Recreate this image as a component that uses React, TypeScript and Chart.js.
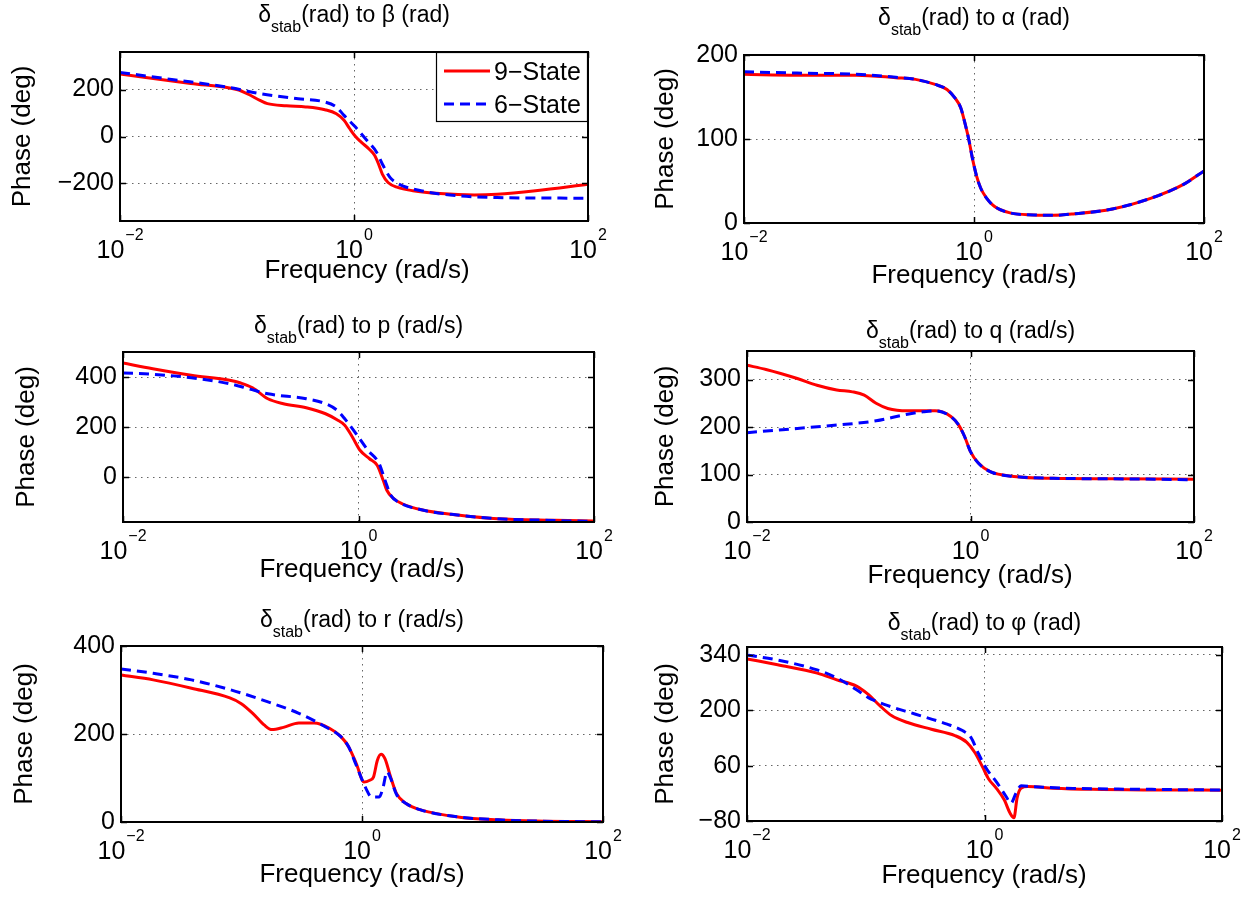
import React, { useEffect, useRef } from 'react';
import { Chart, registerables } from 'chart.js';

Chart.register(...registerables);

const FONT = '"Liberation Sans", Arial, Helvetica, sans-serif';

// ---------- data ----------
const seriesNames = ['9\u2212State', '6\u2212State'];
const xTickValues = [0.01, 1, 100];
const xTickExponents = ['\u22122', '0', '2'];
const xAxisLabel = 'Frequency (rad/s)';
const yAxisLabel = 'Phase (deg)';

// delta_stab -> beta
const betaFreq9 = [0.01, 0.0403, 0.0995, 0.125, 0.157, 0.182, 0.265, 0.387, 0.564, 0.707, 0.822, 0.92, 1.03, 1.153, 1.343, 1.503, 1.62, 1.746, 1.955, 2.36, 3.19, 5.41, 10.7, 16.7, 35.6, 100];
const betaPhase9 = [266, 226, 200, 180, 154, 140, 131, 126, 114, 97, 69, 33, 0, -24, -53, -81, -117, -160, -196, -217, -231, -243, -249, -246, -231, -203];
const betaFreq6 = [0.01, 0.0277, 0.0856, 0.157, 0.333, 0.564, 0.707, 0.822, 1.03, 1.29, 1.56, 1.746, 2.03, 2.36, 3.73, 7.9, 16.7, 100];
const betaPhase6 = [273, 243, 209, 183, 161, 147, 126, 90, 40, -17, -67, -117, -174, -200, -231, -253, -260, -263];
const betaYTicks = [-200, 0, 200];

// delta_stab -> alpha
const alphaFreq9 = [0.01, 0.029, 0.0948, 0.209, 0.31, 0.459, 0.582, 0.682, 0.768, 0.83, 0.899, 0.972, 1.052, 1.14, 1.28, 1.5, 2.06, 3.3, 4.9, 7.3, 16, 35.3, 66.4, 100];
const alphaPhase9 = [177, 176, 176, 173, 171, 165, 159, 149, 137, 120, 100, 76, 56, 42, 30, 20, 12, 9.6, 9.2, 10.8, 16.7, 30, 46, 62];
const alphaFreq6 = [0.01, 0.029, 0.0948, 0.209, 0.31, 0.459, 0.582, 0.682, 0.768, 0.83, 0.899, 0.972, 1.052, 1.14, 1.28, 1.5, 2.06, 3.3, 4.9, 7.3, 16, 35.3, 66.4, 100];
const alphaPhase6 = [180, 178.5, 177, 173.5, 171, 165, 159, 149, 137, 120, 100, 76, 56, 42, 30, 20, 12, 9.6, 9.2, 10.8, 16.7, 30, 46, 62];
const alphaYTicks = [0, 100, 200];

// delta_stab -> p
const pFreq9 = [0.01, 0.0179, 0.038, 0.0805, 0.1, 0.126, 0.17, 0.23, 0.36, 0.525, 0.657, 0.764, 0.887, 1.03, 1.24, 1.44, 1.62, 1.74, 1.95, 2.35, 3.42, 7.24, 15.3, 47.2, 100];
const pPhase9 = [456, 433, 407, 387, 376, 357, 313, 293, 277, 253, 229, 207, 160, 107, 73, 47, -13, -53, -83, -107, -131, -153, -167, -173, -176];
const pFreq6 = [0.01, 0.0179, 0.038, 0.0805, 0.117, 0.17, 0.36, 0.525, 0.657, 0.764, 0.955, 1.2, 1.5, 1.68, 1.88, 2.18, 3.42, 7.24, 15.3, 47.2, 100];
const pPhase6 = [416, 411, 397, 373, 353, 333, 313, 293, 267, 233, 173, 107, 53, -13, -73, -100, -131, -153, -167, -174, -178];
const pYTicks = [0, 200, 400];

// delta_stab -> q
const qFreq9 = [0.01, 0.0148, 0.0282, 0.0423, 0.0635, 0.0879, 0.112, 0.143, 0.182, 0.273, 0.482, 0.667, 0.784, 0.885, 1.0, 1.175, 1.5, 2.44, 5.48, 18.5, 100];
const qPhase9 = [330, 321, 302, 288, 278, 274, 267, 250, 239, 234, 234, 222, 204, 180, 148, 124, 106, 96, 92, 91, 90];
const qFreq6 = [0.01, 0.0282, 0.0635, 0.143, 0.273, 0.378, 0.482, 0.667, 0.784, 0.885, 1.0, 1.175, 1.5, 2.44, 5.48, 18.5, 100];
const qPhase6 = [188, 197, 204, 213, 227, 232, 234, 222, 204, 180, 148, 124, 106, 96, 92, 91, 89];
const qYTicks = [0, 100, 200, 300];

// delta_stab -> r
const rFreq9 = [0.01, 0.0185, 0.0385, 0.08, 0.0996, 0.124, 0.155, 0.179, 0.223, 0.299, 0.4, 0.537, 0.668, 0.774, 0.896, 1.04, 1.16, 1.245, 1.34, 1.44, 1.55, 1.73, 1.93, 2.32, 3.11, 6.47, 13.5, 28, 100];
const rPhase9 = [334, 323, 304, 282, 269, 247, 220, 210, 215, 225, 225, 213, 194, 171, 133, 91, 95, 102, 140, 154, 144, 102, 65, 42, 27, 11, 5, 2, 0.5];
const rFreq6 = [0.01, 0.0185, 0.0385, 0.08, 0.166, 0.299, 0.499, 0.668, 0.774, 0.896, 1.08, 1.2, 1.39, 1.5, 1.61, 1.73, 1.93, 2.32, 3.11, 6.47, 13.5, 28, 100];
const rPhase6 = [348, 338, 323, 301, 273, 247, 216, 194, 171, 129, 76, 57, 57, 80, 114, 99, 63, 42, 27, 11, 5, 2, 0.5];
const rYTicks = [0, 200, 400];

// delta_stab -> phi
const phiFreq9 = [0.01, 0.0181, 0.039, 0.057, 0.0836, 0.105, 0.132, 0.166, 0.225, 0.357, 0.564, 0.71, 0.826, 0.962, 1.08, 1.26, 1.47, 1.64, 1.77, 1.88, 2.03, 2.32, 3.8, 8.17, 25.7, 100];
const phiPhase9 = [330, 315, 294, 277, 261, 240, 211, 186, 169, 152, 136, 119, 94, 57, 27, 2.5, -27, -60, -72, -22, 3, 7, 3, 0, -1.5, -2];
const phiFreq6 = [0.01, 0.0181, 0.039, 0.057, 0.0836, 0.105, 0.143, 0.263, 0.484, 0.658, 0.766, 0.891, 1.04, 1.26, 1.52, 1.67, 1.84, 2.03, 2.6, 5.57, 25.7, 100];
const phiPhase6 = [340, 327, 302, 282, 252, 232, 215, 190, 165, 148, 132, 90, 52, 19, -18, -35, -10, 9, 6.7, 2.5, 0, -1.7];
const phiYTicks = [-80, 60, 200, 340];

// ---------- panels (layout + references to data) ----------
type PanelSpec = {
  title: string;
  f9: number[]; p9: number[]; f6: number[]; p6: number[];
  yTicks: number[]; yMin: number; yMax: number;
  L: number; T: number; R: number; B: number;
  titleY: number; xLabelX: number; xLabelY: number; yLabelX: number;
  legend?: boolean;
};

const panels: PanelSpec[] = [
  { title: '(rad) to \u03b2 (rad)', f9: betaFreq9, p9: betaPhase9, f6: betaFreq6, p6: betaPhase6, yTicks: betaYTicks, yMin: -360, yMax: 360,
    L: 120, T: 52, R: 588, B: 221, titleY: 22, xLabelX: 367, xLabelY: 278, yLabelX: 30, legend: true },
  { title: '(rad) to \u03b1 (rad)', f9: alphaFreq9, p9: alphaPhase9, f6: alphaFreq6, p6: alphaPhase6, yTicks: alphaYTicks, yMin: 0, yMax: 200,
    L: 744, T: 55, R: 1204, B: 223, titleY: 25, xLabelX: 974, xLabelY: 283, yLabelX: 673 },
  { title: '(rad) to p (rad/s)', f9: pFreq9, p9: pPhase9, f6: pFreq6, p6: pPhase6, yTicks: pYTicks, yMin: -180, yMax: 500,
    L: 123, T: 352, R: 594, B: 522, titleY: 333, xLabelX: 362, xLabelY: 577, yLabelX: 34 },
  { title: '(rad) to q (rad/s)', f9: qFreq9, p9: qPhase9, f6: qFreq6, p6: qPhase6, yTicks: qYTicks, yMin: 0, yMax: 360,
    L: 747, T: 351, R: 1194, B: 522, titleY: 338, xLabelX: 970, xLabelY: 583, yLabelX: 673 },
  { title: '(rad) to r (rad/s)', f9: rFreq9, p9: rPhase9, f6: rFreq6, p6: rPhase6, yTicks: rYTicks, yMin: 0, yMax: 400,
    L: 121, T: 646, R: 603, B: 822, titleY: 627, xLabelX: 362, xLabelY: 882, yLabelX: 32 },
  { title: '(rad) to \u03c6 (rad)', f9: phiFreq9, p9: phiPhase9, f6: phiFreq6, p6: phiPhase6, yTicks: phiYTicks, yMin: -80, yMax: 360,
    L: 747, T: 647, R: 1222, B: 821, titleY: 630, xLabelX: 984, xLabelY: 883, yLabelX: 673 },
];

const W = 1258;
const H = 897;
const Y_AXIS_W = 80;
const RED = '#ff0000';
const BLUE = '#0000ff';
const DASH = [10, 6];
const GRID = 'rgba(0,0,0,0.6)';

const fmt = (v: number) => (v < 0 ? '\u2212' + Math.abs(v) : String(v));
const toPoints = (xs: number[], ys: number[]) => xs.map((x, i) => ({ x, y: ys[i] }));

function decorPlugin(spec: PanelSpec) {
  return {
    id: 'matlabDecor',
    afterDraw(chart: any) {
      const { ctx, chartArea: a, scales } = chart;
      const xs = scales.x;
      const ys = scales.y;
      ctx.save();
      ctx.strokeStyle = '#000';
      ctx.fillStyle = '#000';

      // inward tick marks
      ctx.lineWidth = 1.5;
      ctx.beginPath();
      xTickValues.forEach((v) => {
        const px = Math.round(xs.getPixelForValue(v)) + 0.5;
        ctx.moveTo(px, a.bottom); ctx.lineTo(px, a.bottom - 6);
        ctx.moveTo(px, a.top); ctx.lineTo(px, a.top + 6);
      });
      spec.yTicks.forEach((v) => {
        const py = Math.round(ys.getPixelForValue(v)) + 0.5;
        ctx.moveTo(a.left, py); ctx.lineTo(a.left + 6, py);
        ctx.moveTo(a.right, py); ctx.lineTo(a.right - 6, py);
      });
      ctx.stroke();

      // axes box
      ctx.lineWidth = 2;
      ctx.strokeRect(a.left, a.top, a.right - a.left, a.bottom - a.top);

      // x tick labels 10^n
      ctx.textBaseline = 'alphabetic';
      ctx.textAlign = 'left';
      xTickValues.forEach((v, i) => {
        const px = xs.getPixelForValue(v);
        ctx.font = `25px ${FONT}`;
        const wBase = ctx.measureText('10').width;
        ctx.font = `16px ${FONT}`;
        const wExp = ctx.measureText(xTickExponents[i]).width;
        const start = px - (wBase + 1 + wExp) / 2;
        ctx.font = `25px ${FONT}`;
        ctx.fillText('10', start, a.bottom + 37);
        ctx.font = `16px ${FONT}`;
        ctx.fillText(xTickExponents[i], start + wBase + 1, a.bottom + 19);
      });

      // x label
      ctx.font = `26px ${FONT}`;
      ctx.textAlign = 'center';
      ctx.fillText(xAxisLabel, spec.xLabelX, spec.xLabelY);

      // y label
      ctx.save();
      ctx.translate(spec.yLabelX, (a.top + a.bottom) / 2);
      ctx.rotate(-Math.PI / 2);
      ctx.textAlign = 'center';
      ctx.textBaseline = 'alphabetic';
      ctx.font = `26px ${FONT}`;
      ctx.fillText(yAxisLabel, 0, 0);
      ctx.restore();

      // title: delta_stab + rest
      ctx.textAlign = 'left';
      ctx.font = `23px ${FONT}`;
      const wD = ctx.measureText('\u03b4').width;
      const wRest = ctx.measureText(spec.title).width;
      ctx.font = `16px ${FONT}`;
      const wSub = ctx.measureText('stab').width;
      const cx = (a.left + a.right) / 2;
      let tx = cx - (wD + wSub + wRest) / 2;
      ctx.font = `23px ${FONT}`;
      ctx.fillText('\u03b4', tx, spec.titleY);
      tx += wD;
      ctx.font = `16px ${FONT}`;
      ctx.fillText('stab', tx, spec.titleY + 10);
      tx += wSub;
      ctx.font = `23px ${FONT}`;
      ctx.fillText(spec.title, tx, spec.titleY);

      // legend
      if (spec.legend) {
        const lx0 = 436, ly0 = a.top, lx1 = a.right, ly1 = a.top + 70;
        ctx.fillStyle = '#fff';
        ctx.fillRect(lx0, ly0, lx1 - lx0, ly1 - ly0);
        ctx.strokeStyle = '#000';
        ctx.lineWidth = 1.2;
        ctx.strokeRect(lx0 + 0.5, ly0 + 0.5, lx1 - lx0 - 1, ly1 - ly0 - 1);
        const ds = chart.data.datasets;
        const rows = [ly0 + 19, ly0 + 52];
        ds.forEach((d: any, i: number) => {
          ctx.save();
          ctx.strokeStyle = d.borderColor;
          ctx.lineWidth = d.borderWidth;
          ctx.setLineDash(d.borderDash || []);
          ctx.beginPath();
          ctx.moveTo(444, rows[i]);
          ctx.lineTo(490, rows[i]);
          ctx.stroke();
          ctx.restore();
          ctx.fillStyle = '#000';
          ctx.font = `25px ${FONT}`;
          ctx.textAlign = 'left';
          ctx.fillText(d.label, 494, rows[i] + 9);
        });
      }
      ctx.restore();
    },
  };
}

function Panel({ spec }: { spec: PanelSpec }) {
  const ref = useRef<HTMLCanvasElement>(null);
  useEffect(() => {
    if (!ref.current) return;
    const chart = new Chart(ref.current, {
      type: 'line',
      data: {
        datasets: [
          {
            label: seriesNames[0],
            data: toPoints(spec.f9, spec.p9),
            borderColor: RED,
            borderWidth: 3,
            pointRadius: 0,
            fill: false,
            cubicInterpolationMode: 'monotone',
            order: 1,
          },
          {
            label: seriesNames[1],
            data: toPoints(spec.f6, spec.p6),
            borderColor: BLUE,
            borderWidth: 3,
            borderDash: DASH,
            pointRadius: 0,
            fill: false,
            cubicInterpolationMode: 'monotone',
            order: 0,
          },
        ],
      } as any,
      options: {
        responsive: false,
        maintainAspectRatio: false,
        animation: false,
        devicePixelRatio: 1,
        events: [],
        layout: {
          padding: { left: spec.L - Y_AXIS_W, top: spec.T, right: W - spec.R, bottom: H - spec.B },
        },
        plugins: { legend: { display: false }, tooltip: { enabled: false }, title: { display: false } },
        scales: {
          x: {
            type: 'logarithmic',
            min: 0.01,
            max: 100,
            afterBuildTicks: (s: any) => { s.ticks = xTickValues.map((v) => ({ value: v })); },
            afterFit: (s: any) => { s.height = 0; },
            ticks: { display: false },
            grid: { drawTicks: false, color: GRID, lineWidth: 1 },
            border: { display: false, dash: [1.5, 4.5] },
          },
          y: {
            type: 'linear',
            min: spec.yMin,
            max: spec.yMax,
            afterBuildTicks: (s: any) => { s.ticks = spec.yTicks.map((v) => ({ value: v })); },
            afterFit: (s: any) => { s.width = Y_AXIS_W; },
            ticks: {
              font: { family: FONT, size: 25 },
              color: '#000',
              padding: 6,
              callback: (v: any) => fmt(Number(v)),
            },
            grid: { drawTicks: false, color: GRID, lineWidth: 1 },
            border: { display: false, dash: [1.5, 4.5] },
          },
        },
      } as any,
      plugins: [decorPlugin(spec)],
    });
    return () => chart.destroy();
  }, [spec]);
  return (
    <canvas
      ref={ref}
      width={W}
      height={H}
      style={{ position: 'absolute', left: 0, top: 0, width: W, height: H }}
    />
  );
}

export default function App() {
  return (
    <div style={{ position: 'absolute', left: 0, top: 0, width: W, height: H, background: '#fff', overflow: 'hidden' }}>
      {panels.map((p, i) => (
        <Panel key={i} spec={p} />
      ))}
    </div>
  );
}
